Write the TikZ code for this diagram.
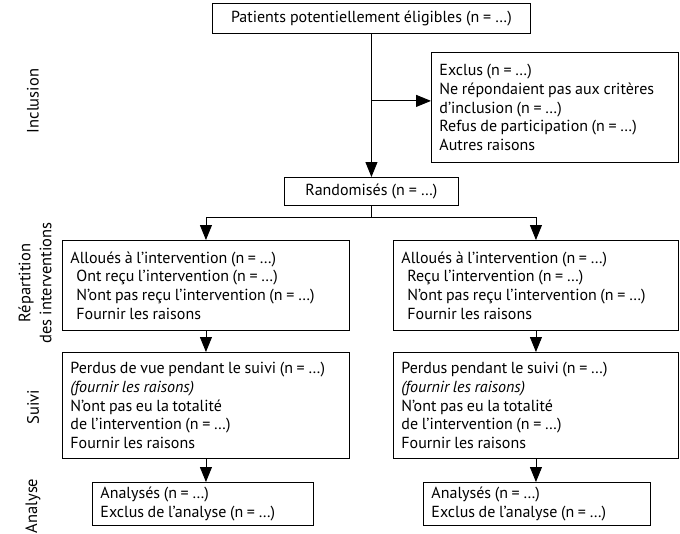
\documentclass[tikz,border=0pt]{standalone}
\usepackage{fontspec}
\setmainfont{PT Sans}
\usetikzlibrary{arrows.meta}

\tikzset{
  boite/.style={draw, line width=0.9pt, anchor=north west, align=left,
    inner xsep=8pt, inner ysep=2pt, font=\fontsize{16}{18.7}\selectfont,
    execute at begin node={\spaceskip=3.6pt plus 1pt minus 0.5pt\relax}},
  fleche/.style={line width=0.9pt, -{Triangle[length=15pt,width=12pt]}},
  trait/.style={line width=0.9pt},
  etape/.style={rotate=90, align=center, font=\fontsize{16.5}{21}\selectfont},
}
\newcommand{\retrait}{\hspace*{6pt}}

\begin{document}
\begin{tikzpicture}[x=1pt, y=-1pt]
  \useasboundingbox (0,0) rectangle (680,533);

  % Etapes
  \node[etape] (lincl) at (33,101) {Inclusion};
  \node[etape] (lrep) at (35,283) {Répartition\\des interventions};
  \node[etape] (lsuivi) at (33,407) {Suivi};
  \node[etape] (lana) at (33,506) {Analyse};

  % Boites
  \node[boite, align=center, text width=302pt, minimum height=30pt] (top) at (212,3)
    {Patients potentiellement éligibles (n = …)};
  \node[boite, text width=231pt, minimum height=110pt] (excl) at (431,52)
    {Exclus (n = …)\\Ne répondaient pas aux critères\\d’inclusion (n = …)\\Refus de participation (n = …)\\Autres raisons};
  \node[boite, align=center, text width=158pt, minimum height=28pt] (rand) at (284,177)
    {Randomisés (n = …)};

  \node[boite, text width=271pt, minimum height=90pt] (alloc1) at (62,240)
    {Alloués à l’intervention (n = …)\\\retrait Ont reçu l’intervention (n = …)\\\retrait N’ont pas reçu l’intervention (n = …)\\\retrait Fournir les raisons};
  \node[boite, text width=269pt, minimum height=90pt] (alloc2) at (393,240)
    {Alloués à l’intervention (n = …)\\\retrait Reçu l’intervention (n = …)\\\retrait N’ont pas reçu l’intervention (n = …)\\\retrait Fournir les raisons};

  \node[boite, text width=271pt, minimum height=106pt] (suivi1) at (62,352)
    {Perdus de vue pendant le suivi (n = …)\\\textit{(fournir les raisons)}\\N’ont pas eu la totalité\\de l’intervention (n = …)\\Fournir les raisons};
  \node[boite, text width=269pt, minimum height=106pt] (suivi2) at (393,352)
    {Perdus pendant le suivi (n = …)\\\textit{(fournir les raisons)}\\N’ont pas eu la totalité\\de l’intervention (n = …)\\Fournir les raisons};

  \node[boite, text width=205pt, minimum height=43pt] (ana1) at (92,482)
    {Analysés (n = …)\\Exclus de l’analyse (n = …)};
  \node[boite, text width=211pt, minimum height=43pt] (ana2) at (423,482)
    {Analysés (n = …)\\Exclus de l’analyse (n = …)};

  % Fleches
  \coordinate (bif1) at ([yshift=-67pt]top.south);
  \coordinate (bif2) at ([yshift=-12pt]rand.south);
  \draw[fleche] (top.south) -- (rand.north);
  \draw[fleche] (bif1) -- (bif1 -| excl.west);
  \draw[trait] (rand.south) -- (bif2);
  \draw[fleche] (bif2) -| (alloc1.north);
  \draw[fleche] (bif2) -| (alloc2.north);
  \draw[fleche] (alloc1.south) -- (suivi1.north);
  \draw[fleche] (alloc2.south) -- (suivi2.north);
  \draw[fleche] (suivi1.south) -- (suivi1.south |- ana1.north);
  \draw[fleche] (suivi2.south) -- (suivi2.south |- ana2.north);
\end{tikzpicture}
\end{document}
